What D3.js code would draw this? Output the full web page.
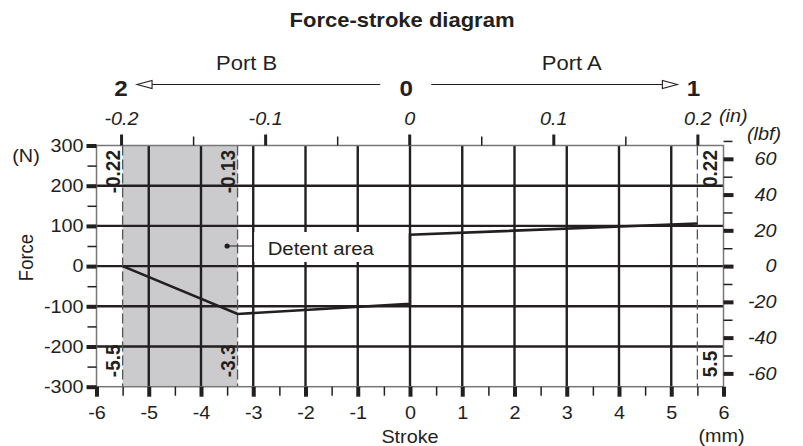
<!DOCTYPE html>
<html>
<head>
<meta charset="utf-8">
<script src="https://cdn.jsdelivr.net/npm/d3@7"></script>
<style>
  html, body { margin: 0; padding: 0; background: #fff; }
  svg { display: block; font-family: "Liberation Sans", Arial, Helvetica, sans-serif; }
</style>
</head>
<body>
<svg id="chart" width="803" height="446"></svg>
<script>
// Characteristic curve: stroke (mm) against force (N)
const strokeMm = [-5.5, -3.3, 0, 0, 5.5];
const forceN   = [0, -119, -94, 78, 106];

// Detent zone and the dashed end / detent positions
const detentRange    = [-5.5, -3.3];
const markerStrokes  = [-5.5, -3.3, 5.5];
const markerInLabels = ["-0.22", "-0.13", "0.22"];
const markerMmLabels = ["-5.5", "-3.3", "5.5"];

// Axis ticks
const strokeTicks      = [-6, -5, -4, -3, -2, -1, 0, 1, 2, 3, 4, 5, 6];
const strokeMinorTicks = [-5.5, -4.5, -3.5, -2.5, -1.5, -0.5, 0.5, 1.5, 2.5, 3.5, 4.5, 5.5];
const strokeGrid       = [-5, -4, -3, -2, -1, 0, 1, 2, 3, 4, 5];
const forceTicks       = [-300, -200, -100, 0, 100, 200, 300];
const forceMinorTicks  = [-250, -150, -50, 50, 150, 250];
const forceGrid        = [-200, -100, 0, 100, 200];
const lbfTicks         = [-60, -40, -20, 0, 20, 40, 60];
const lbfMinorTicks    = [-50, -30, -10, 10, 30, 50, 70];
const inchTicks        = [-0.2, -0.1, 0, 0.1, 0.2];
const inchTickLabels   = ["-0.2", "-0.1", "0", "0.1", "0.2"];
const inchMinorTicks   = [-0.15, -0.05, 0.05, 0.15];

// Texts
const titleText      = "Force-stroke diagram";
const portLabels     = ["Port B", "Port A"];
const positionLabels = ["2", "0", "1"];
const detentText     = "Detent area";
const N_PER_LBF = 4.448;

const INK = "#231f20";
const SX = 1.1; // horizontal text stretch

const svg = d3.select("#chart");

const x = d3.scaleLinear().domain([-6, 6]).range([96.5, 723.5]);
const y = d3.scaleLinear().domain([-300, 300]).range([386.7, 145.5]);
const yLbf = d3.scaleLinear().domain([-300 / N_PER_LBF, 300 / N_PER_LBF]).range([386.7, 145.5]);
const xIn = d3.scaleLinear().domain([-0.2, 0.2]).range([x(-5.53), x(5.5)]);

const [X0, X1] = x.range();
const [Y1, Y0] = y.range();

function label(parent, txt, px, py, o = {}) {
  const rot = o.rotate ? " rotate(-90)" : "";
  return parent.append("text")
    .attr("transform", `translate(${px},${py}) scale(${SX},1)${rot}`)
    .attr("text-anchor", o.anchor || "middle")
    .attr("dy", o.dy || 0)
    .attr("font-size", o.size || 18)
    .attr("font-weight", o.bold ? "bold" : null)
    .attr("font-style", o.italic ? "italic" : null)
    .attr("fill", INK)
    .text(txt);
}

// Detent shading
svg.append("rect")
  .attr("x", x(detentRange[0])).attr("y", Y0)
  .attr("width", x(detentRange[1]) - x(detentRange[0]))
  .attr("height", Y1 - Y0)
  .attr("fill", "#cbcbcd");

// Grid
const grid = svg.append("g").attr("stroke", INK).attr("stroke-width", 2.4);
grid.selectAll("line.v").data(strokeGrid).join("line")
  .attr("x1", d => x(d)).attr("x2", d => x(d)).attr("y1", Y0).attr("y2", Y1);
grid.selectAll("line.h").data(forceGrid).join("line")
  .attr("y1", d => y(d)).attr("y2", d => y(d)).attr("x1", X0).attr("x2", X1);

// Dashed markers
svg.append("g").selectAll("line").data(markerStrokes).join("line")
  .attr("x1", d => x(d)).attr("x2", d => x(d)).attr("y1", Y0).attr("y2", Y1)
  .attr("stroke", "#555").attr("stroke-width", 1.3).attr("stroke-dasharray", "10,4");

// Frame
svg.append("rect").attr("x", X0).attr("y", Y0).attr("width", X1 - X0).attr("height", Y1 - Y0)
  .attr("fill", "none").attr("stroke", "#777").attr("stroke-width", 1.5);

// Detent annotation
const dot = [x(-3.5), y(50)];
const box = svg.append("g");
box.append("rect").attr("x", dot[0] + 27).attr("y", dot[1] - 14).attr("width", 126).attr("height", 30).attr("fill", "#fff");
box.append("line").attr("x1", dot[0]).attr("x2", dot[0] + 27).attr("y1", dot[1]).attr("y2", dot[1])
  .attr("stroke", INK).attr("stroke-width", 1);
box.append("circle").attr("cx", dot[0]).attr("cy", dot[1]).attr("r", 2.6).attr("fill", INK);
label(box, detentText, dot[0] + 40.5, dot[1] + 9, { anchor: "start", size: 18.5 });

// Curve
const line = d3.line().x(d => x(d[0])).y(d => y(d[1]));
svg.append("path")
  .datum(strokeMm.map((s, i) => [s, forceN[i]]))
  .attr("d", line)
  .attr("fill", "none").attr("stroke", INK).attr("stroke-width", 2.6).attr("stroke-linejoin", "miter");

// Marker labels
const ml = svg.append("g");
markerStrokes.forEach((s, i) => {
  const off = s > 0 ? 12 : -10;
  label(ml, markerInLabels[i], x(s) + off, Y0 + 4.5, { rotate: true, anchor: "end", bold: true, size: 19, dy: "0.35em" });
  label(ml, markerMmLabels[i], x(s) + off, Y1 - 9.5, { rotate: true, anchor: "start", bold: true, size: 19, dy: "0.35em" });
});

// Axis helper
function styleAxis(g, width, size, italic) {
  g.attr("font-family", null).attr("font-size", size);
  g.select(".domain").remove();
  g.selectAll(".tick line").attr("stroke", INK).attr("stroke-width", width);
  g.selectAll(".tick text").attr("fill", INK).attr("font-style", italic ? "italic" : null)
    .each(function () {
      const t = d3.select(this);
      const tx = +t.attr("x") || 0;
      t.attr("x", 0).attr("transform", `translate(${tx},0) scale(${SX},1)`);
    });
}
const fmt = d => String(d);

// Bottom axis (mm)
svg.append("g").attr("transform", `translate(0,${Y1})`)
  .call(d3.axisBottom(x).tickValues(strokeMinorTicks).tickSize(9).tickFormat(""))
  .call(g => styleAxis(g, 1.5, 18));
svg.append("g").attr("transform", `translate(0,${Y1})`)
  .call(d3.axisBottom(x).tickValues(strokeTicks).tickSize(10).tickPadding(10).tickFormat(fmt))
  .call(g => styleAxis(g, 4, 18));

// Left axis (N)
svg.append("g").attr("transform", `translate(${X0},0)`)
  .call(d3.axisLeft(y).tickValues(forceMinorTicks).tickSize(9).tickFormat(""))
  .call(g => styleAxis(g, 1.5, 18));
svg.append("g").attr("transform", `translate(${X0},0)`)
  .call(d3.axisLeft(y).tickValues(forceTicks).tickSize(10).tickPadding(3).tickFormat(fmt))
  .call(g => styleAxis(g, 4, 18));

// Right axis (lbf)
svg.append("g").attr("transform", `translate(${X1},0)`)
  .call(d3.axisRight(yLbf).tickValues(lbfMinorTicks).tickSize(9).tickFormat(""))
  .call(g => styleAxis(g, 1.5, 18));
svg.append("g").attr("transform", `translate(${X1},0)`)
  .call(d3.axisRight(yLbf).tickValues(lbfTicks).tickSize(10).tickPadding(43).tickFormat(fmt))
  .call(g => {
    g.selectAll(".tick text").attr("text-anchor", "end");
    styleAxis(g, 4, 18, true);
  });

// Top axis (in)
svg.append("g").attr("transform", `translate(0,${Y0})`)
  .call(d3.axisTop(xIn).tickValues(inchMinorTicks).tickSize(9).tickFormat(""))
  .call(g => styleAxis(g, 1.5, 18));
svg.append("g").attr("transform", `translate(0,${Y0})`)
  .call(d3.axisTop(xIn).tickValues(inchTicks).tickSize(11).tickPadding(9.5)
    .tickFormat((d, i) => inchTickLabels[i]))
  .call(g => styleAxis(g, 3, 18, true));

// Axis titles and units
const ann = svg.append("g");
label(ann, "Stroke", x(0), 442.5, { size: 18 });
label(ann, "(mm)", x(6) - 2, 441.5, { size: 18 });
label(ann, "Force", 25.5, 257.5, { rotate: true, size: 18.5, dy: "0.35em" });
label(ann, "(N)", 26, 162, { size: 18 });
label(ann, "(in)", 719, 121.5, { anchor: "start", italic: true, size: 18 });
label(ann, "(lbf)", 747, 140, { anchor: "start", italic: true, size: 18 });

// Title
label(ann, titleText, 402, 27, { bold: true, size: 20 });

// Ports and position numbers
const posX = [xIn(-0.2), xIn(0) - 3, xIn(0.2) - 4];
const arrowY = 84.5;
positionLabels.forEach((t, i) => label(ann, t, posX[i], 96, { bold: true, size: 22 }));
label(ann, portLabels[0], (posX[0] + posX[1]) / 2 - 17, 69.5, { size: 20 });
label(ann, portLabels[1], (posX[1] + posX[2]) / 2 + 22, 69.5, { size: 20 });

const arrows = [
  { from: posX[1] - 26, to: posX[0] + 16 },
  { from: posX[1] + 25, to: posX[2] - 16 }
];
arrows.forEach(a => {
  const dir = Math.sign(a.to - a.from);
  const base = a.to - dir * 15;
  ann.append("line").attr("x1", a.from).attr("x2", base).attr("y1", arrowY).attr("y2", arrowY)
    .attr("stroke", INK).attr("stroke-width", 1.1);
  ann.append("path")
    .attr("d", `M${a.to},${arrowY} L${base},${arrowY - 4} L${base},${arrowY + 4} Z`)
    .attr("fill", "#fff").attr("stroke", INK).attr("stroke-width", 1.1);
});
</script>
</body>
</html>
